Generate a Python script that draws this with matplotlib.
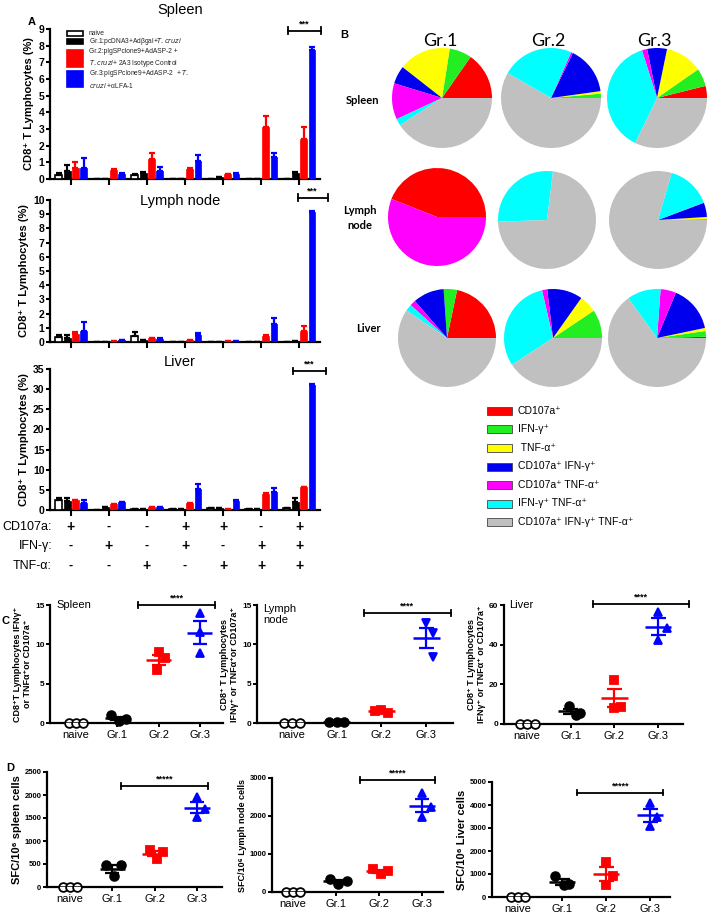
import numpy as np
import matplotlib
matplotlib.use('Agg')
import matplotlib.pyplot as plt
from matplotlib.patches import Rectangle
from matplotlib import transforms

plt.rcParams['font.family'] = ['Liberation Sans', 'DejaVu Sans']

W, H = 708, 914
fig = plt.figure(figsize=(W / 100, H / 100), dpi=100)


def box(x0, y0, x1, y1):
    return [x0 / W, 1 - y1 / H, (x1 - x0) / W, (y1 - y0) / H]


# ---------------- Panel A data ----------------
group_names = ['naive', 'Gr.1', 'Gr.2', 'Gr.3']
cd107a_row = ['+', '-', '-', '+', '+', '-', '+']
ifn_row = ['-', '+', '-', '+', '-', '+', '+']
tnf_row = ['-', '-', '+', '-', '+', '+', '+']

spleen_naive = [0.27, 0.02, 0.23, 0.02, 0.03, 0.02, 0.03]
spleen_naive_err = [0.10, 0.0, 0.07, 0.0, 0.0, 0.0, 0.0]
spleen_gr1 = [0.48, 0.03, 0.37, 0.02, 0.15, 0.03, 0.37]
spleen_gr1_err = [0.37, 0.0, 0.08, 0.0, 0.0, 0.0, 0.03]
spleen_gr2 = [0.69, 0.54, 1.20, 0.62, 0.30, 3.10, 2.40]
spleen_gr2_err = [0.31, 0.06, 0.38, 0.05, 0.03, 0.70, 0.75]
spleen_gr3 = [0.69, 0.31, 0.48, 1.06, 0.30, 1.31, 7.76]
spleen_gr3_err = [0.56, 0.06, 0.25, 0.36, 0.05, 0.27, 0.16]

lymph_naive = [0.35, 0.02, 0.40, 0.02, 0.03, 0.02, 0.02]
lymph_naive_err = [0.17, 0.0, 0.30, 0.0, 0.0, 0.0, 0.0]
lymph_gr1 = [0.28, 0.02, 0.12, 0.02, 0.03, 0.02, 0.05]
lymph_gr1_err = [0.22, 0.0, 0.0, 0.0, 0.0, 0.0, 0.0]
lymph_gr2 = [0.56, 0.09, 0.26, 0.14, 0.05, 0.40, 0.80]
lymph_gr2_err = [0.14, 0.0, 0.0, 0.0, 0.0, 0.10, 0.30]
lymph_gr3 = [0.80, 0.16, 0.24, 0.47, 0.05, 1.29, 9.17]
lymph_gr3_err = [0.59, 0.0, 0.05, 0.17, 0.0, 0.41, 0.05]

liver_naive = [2.46, 0.05, 0.20, 0.20, 0.60, 0.20, 0.50]
liver_naive_err = [0.55, 0.0, 0.0, 0.0, 0.0, 0.0, 0.0]
liver_gr1 = [2.30, 0.80, 0.25, 0.30, 0.40, 0.20, 2.00]
liver_gr1_err = [0.70, 0.0, 0.0, 0.0, 0.0, 0.0, 0.90]
liver_gr2 = [2.46, 1.60, 0.80, 1.80, 0.30, 4.00, 5.70]
liver_gr2_err = [0.0, 0.0, 0.0, 0.0, 0.0, 0.30, 0.0]
liver_gr3 = [1.80, 1.90, 0.70, 5.20, 2.30, 4.50, 31.06]
liver_gr3_err = [0.80, 0.0, 0.0, 1.20, 0.20, 0.90, 0.15]

# ---------------- Panel B data (percent of responding cells) ----------------
subset_labels = ['CD107a\u207a', 'IFN-\u03b3\u207a', ' TNF-\u03b1\u207a', 'CD107a\u207a IFN-\u03b3\u207a',
                 'CD107a\u207a TNF-\u03b1\u207a', 'IFN-\u03b3\u207a TNF-\u03b1\u207a',
                 'CD107a\u207a IFN-\u03b3\u207a TNF-\u03b1\u207a']
subset_colors = ['#ff0000', '#22ee22', '#ffff00', '#0000ee', '#ff00ff', '#00ffff', '#c0c0c0']

pie_spleen_gr1 = [15.3, 7.2, 16.9, 5.8, 11.7, 2.2, 40.8]
pie_spleen_gr2 = [0.0, 1.4, 0.8, 15.6, 0.6, 23.3, 58.3]
pie_spleen_gr3 = [3.9, 5.8, 12.1, 6.4, 1.7, 38.0, 32.2]
pie_lymph_gr1 = [44.0, 0.0, 0.0, 0.0, 56.0, 0.0, 0.0]
pie_lymph_gr2 = [0.0, 0.0, 0.0, 0.0, 0.0, 27.5, 72.5]
pie_lymph_gr3 = [0.1, 0.2, 0.7, 4.7, 0.1, 14.7, 79.5]
pie_liver_gr1 = [21.7, 4.4, 0.0, 10.3, 1.9, 2.2, 59.5]
pie_liver_gr2 = [0.0, 9.4, 5.8, 11.7, 1.7, 30.6, 40.8]
pie_liver_gr3 = [0.4, 1.9, 1.0, 15.4, 5.1, 11.1, 65.0]

# ---------------- Panel C data (% CD8+ cytokine+) ----------------
c_spleen = [[0, 0, 0], [1.0, 0.3, 0.5], [9.06, 8.21, 6.72], [14.0, 11.6, 8.9]]
c_lymph = [[0, 0, 0], [0.1, 0.1, 0.1], [1.5, 1.3, 1.6], [12.75, 11.4, 8.4]]
c_liver = [[0, 0, 0], [9.0, 5.5, 4.5], [22.2, 8.7, 8.0], [56.7, 48.3, 42.4]]

# ---------------- Panel D data (SFC / 10^6 cells) ----------------
d_spleen = [[0, 0, 0], [471, 471, 232], [797, 761, 616], [1957, 1704, 1522]]
d_lymph = [[0, 0, 0], [340, 290, 215], [600, 560, 480], [2602, 2232, 1985]]
d_liver = [[0, 0, 0], [900, 580, 510], [1530, 930, 510], [4082, 3499, 3090]]

# ======================= Panel A =======================
bar_colors = ['white', 'black', '#ff0000', '#0000ff']
bar_edges = ['black', 'black', '#ff0000', '#0000ff']
err_colors = ['black', 'black', '#ff0000', '#0000ff']
bar_offsets = [-0.32, -0.10, 0.12, 0.34]
bar_width = 0.18


def bar_panel(rect, series, errs, ylim, yticks, title, title_y):
    ax = fig.add_axes(box(*rect))
    xs = np.arange(len(cd107a_row))
    for k in range(4):
        vals = np.array(series[k])
        e = np.array(errs[k])
        ax.bar(xs + bar_offsets[k], vals, bar_width, color=bar_colors[k],
               edgecolor=bar_edges[k], linewidth=1.2 if k == 0 else 0.5,
               yerr=[np.zeros_like(e), e],
               error_kw=dict(ecolor=err_colors[k], elinewidth=1.6, capsize=2.2, capthick=1.6),
               zorder=3)
    ax.set_xlim(-0.55, 6.55)
    ax.set_ylim(*ylim)
    ax.set_yticks(yticks)
    ax.set_xticks(xs)
    ax.set_xticklabels([])
    for s in ['top', 'right']:
        ax.spines[s].set_visible(False)
    for s in ['left', 'bottom']:
        ax.spines[s].set_linewidth(1.6)
    ax.tick_params(axis='y', length=3, width=1.5, labelsize=7.5, pad=1)
    ax.tick_params(axis='x', length=4, width=1.5)
    for t in ax.get_yticklabels():
        t.set_fontweight('bold')
    ax.set_ylabel('CD8\u207a T Lymphocytes (%)', fontsize=8, fontweight='bold', labelpad=3)
    fig.text(180 / W, 1 - title_y / H, title, ha='center', va='center', fontsize=10.5)
    return ax


def bracket(ax, x1, x2, y, h, label, fs=6.5, ty=None):
    kw = dict(color='black', lw=1.3, clip_on=False)
    ax.plot([x1, x2], [y, y], **kw)
    ax.plot([x1, x1], [y - h, y + h], **kw)
    ax.plot([x2, x2], [y - h, y + h], **kw)
    ax.text((x1 + x2) / 2, y if ty is None else ty, label, ha='center', va='bottom', fontsize=fs,
            fontweight='bold', clip_on=False)


axA1 = bar_panel((50, 29, 320, 179),
                 [spleen_naive, spleen_gr1, spleen_gr2, spleen_gr3],
                 [spleen_naive_err, spleen_gr1_err, spleen_gr2_err, spleen_gr3_err],
                 (0, 9), range(0, 10), 'Spleen', 10)
axA2 = bar_panel((50, 200, 320, 342),
                 [lymph_naive, lymph_gr1, lymph_gr2, lymph_gr3],
                 [lymph_naive_err, lymph_gr1_err, lymph_gr2_err, lymph_gr3_err],
                 (0, 10), range(0, 11), 'Lymph node', 201)
axA3 = bar_panel((50, 369, 320, 510),
                 [liver_naive, liver_gr1, liver_gr2, liver_gr3],
                 [liver_naive_err, liver_gr1_err, liver_gr2_err, liver_gr3_err],
                 (0, 35), range(0, 36, 5), 'Liver', 362)

bracket(axA1, 5.70, 6.57, 8.9, 0.2, '***', ty=9.0)
bracket(axA2, 5.96, 6.75, 10.15, 0.25, '***', ty=10.3)
bracket(axA3, 5.83, 6.72, 34.5, 0.8, '***', ty=35.0)

# legend for A (drawn in spleen axes)
leg_items = [
    (31, 36, 33.5, ['naive'], 0),
    (39, 44, 41.5, ['Gr.1:pcDNA3+Ad\u03b2gal+$\\it{T.cruzi}$'], 1),
    (50, 67, 58.5, ['Gr.2:pIgSPclone9+AdASP-2 +', '$\\it{T.cruzi}$+ 2A3 Isotype Control'], 2),
    (71, 87, 79.0, ['Gr.3:pIgSPclone9+AdASP-2  + $\\it{T.}$', '$\\it{cruzi}$ +\u03b1LFA-1'], 3),
]
for y0, y1, yt, lines, k in leg_items:
    fig.patches.append(Rectangle((67 / W, 1 - y1 / H), 16 / W, (y1 - y0) / H,
                                 transform=fig.transFigure, facecolor=bar_colors[k],
                                 edgecolor='black' if k < 2 else bar_colors[k], lw=1.2))
    fig.text(89 / W, 1 - yt / H, '\n'.join(lines), fontsize=4.8, va='center', ha='left',
             color='#222222', linespacing=1.35)

fig.text(32 / W, 1 - 22 / H, 'A', fontsize=8, fontweight='bold', ha='center', va='center')

# +/- table under liver
trans = transforms.blended_transform_factory(axA3.transData, fig.transFigure)
rows = [('CD107a:', cd107a_row, 527), ('IFN-\u03b3:', ifn_row, 546), ('TNF-\u03b1:', tnf_row, 566)]
for lab, signs, ypx in rows:
    fig.text(52 / W, 1 - ypx / H, lab, ha='right', va='center', fontsize=9)
    for i, s in enumerate(signs):
        axA3.text(i, 1 - ypx / H, s, transform=trans, ha='center', va='center',
                  fontsize=10 if s == '+' else 9, fontweight='bold')

# ======================= Panel B =======================
axP = fig.add_axes([0, 0, 1, 1])
pies = [
    (pie_spleen_gr1, 442, 98, 50, 0), (pie_spleen_gr2, 551, 98, 50, 0), (pie_spleen_gr3, 657, 98, 50, 0),
    (pie_lymph_gr1, 437, 217, 49, 0), (pie_lymph_gr2, 547, 220, 49, 83), (pie_lymph_gr3, 658, 220, 49, 0),
    (pie_liver_gr1, 447, 338, 49, 0), (pie_liver_gr2, 553, 338, 49, 0), (pie_liver_gr3, 657, 338, 49, 0),
]
for vals, cx, cy, r, sa in pies:
    axP.pie(vals, colors=subset_colors, center=(cx, H - cy), radius=r, startangle=sa,
            counterclock=True, wedgeprops=dict(linewidth=0), normalize=True)
axP.set_xlim(0, W)
axP.set_ylim(0, H)
axP.set_aspect('auto')
axP.axis('off')

for lab, x in zip(['Gr.1', 'Gr.2', 'Gr.3'], [440, 548, 654]):
    fig.text(x / W, 1 - 41 / H, lab, ha='center', va='center', fontsize=13, family='Lato')
fig.text(363 / W, 1 - 100 / H, 'Spleen', ha='center', va='center', fontsize=8, fontweight='bold', family='Lato')
fig.text(360 / W, 1 - 218 / H, 'Lymph\nnode', ha='center', va='center', fontsize=8, fontweight='bold',
         family='Lato', linespacing=1.4)
fig.text(368 / W, 1 - 329 / H, 'Liver', ha='center', va='center', fontsize=8, fontweight='bold', family='Lato')
fig.text(344 / W, 1 - 35 / H, 'B', fontsize=8, fontweight='bold', ha='center', va='center')

for i, (lab, col) in enumerate(zip(subset_labels, subset_colors)):
    yc = 411 + i * 18.5
    fig.patches.append(Rectangle((487 / W, 1 - (yc + 4) / H), 25 / W, 8 / H, transform=fig.transFigure,
                                 facecolor=col, edgecolor='#444444', lw=0.6))
    fig.text(518 / W, 1 - yc / H, lab, ha='left', va='center', fontsize=7.5)

# ======================= Panels C & D =======================
marker_style = [dict(marker='o', mfc='white', mec='black', color='black'),
                dict(marker='o', mfc='black', mec='black', color='black'),
                dict(marker='s', mfc='#ff0000', mec='#ff0000', color='#ff0000'),
                dict(marker='^', mfc='#0000ff', mec='#0000ff', color='#0000ff')]


def scatter_panel(rect, data, xlim, ylim, yticks, ylabel, offsets, ylab_fs=6.5, tick_fs=6,
                  gr3_marker='^', ms=6.3):
    ax = fig.add_axes(box(*rect))
    for i, vals in enumerate(data):
        vals = np.array(vals, dtype=float)
        st = dict(marker_style[i])
        col = st.pop('color')
        if i == 3:
            st['marker'] = gr3_marker
        x = i + np.array(offsets[i])
        ax.plot(x, vals, linestyle='none', ms=ms, mew=1.3, zorder=4, clip_on=False, **st)
        m = vals.mean()
        s = vals.std(ddof=1) / np.sqrt(len(vals))
        ax.hlines(m, i - 0.3, i + 0.3, color=col, lw=1.8, zorder=5)
        if s > 0:
            ax.hlines([m - s, m + s], i - 0.17, i + 0.17, color=col, lw=1.6, zorder=5)
            ax.vlines(i, m - s, m + s, color=col, lw=1.6, zorder=5)
    ax.set_xlim(*xlim)
    ax.set_ylim(*ylim)
    ax.set_yticks(yticks)
    ax.set_xticks(range(4))
    ax.set_xticklabels(group_names, fontsize=8)
    for s in ['top', 'right']:
        ax.spines[s].set_visible(False)
    for s in ['left', 'bottom']:
        ax.spines[s].set_linewidth(1.6)
    ax.tick_params(axis='x', length=3, width=1.4, pad=2)
    ax.tick_params(axis='y', length=3, width=1.4, labelsize=tick_fs, pad=1)
    for t in ax.get_yticklabels():
        t.set_fontweight('bold')
    ax.set_ylabel(ylabel, fontsize=ylab_fs, fontweight='bold', labelpad=2, linespacing=1.2)
    return ax


off_c_spleen = [[-0.17, 0, 0.17], [-0.15, 0.05, 0.22], [0, 0.15, -0.03], [0, 0, 0]]
off_c_lymph = [[-0.17, 0, 0.17], [-0.17, 0, 0.17], [-0.15, 0.15, 0], [0, 0.15, 0.15]]
off_c_liver = [[-0.17, 0, 0.17], [-0.05, 0.2, 0.12], [0, 0.15, 0], [0, 0.2, 0]]

axC1 = scatter_panel((50, 605, 223, 723), c_spleen, (-0.63, 3.56), (0, 15), [0, 5, 10, 15],
                     'CD8\u207aT Lymphocytes IFN\u03b3\u207a\nor TNF\u03b1\u207aor CD107a\u207a', off_c_spleen)
axC2 = scatter_panel((257, 605, 453, 723), c_lymph, (-0.78, 3.6), (0, 15), [0, 5, 10, 15],
                     'CD8\u207a T Lymphocytes\nIFN\u03b3\u207a or TNF\u03b1\u207aor CD107a\u207a', off_c_lymph,
                     gr3_marker='v')
axC3 = scatter_panel((504, 605, 683, 724), c_liver, (-0.53, 3.57), (0, 60), [0, 20, 40, 60],
                     'CD8\u207a T Lymphocytes\nIFN\u03b3\u207a or TNF\u03b1\u207a or CD107a\u207a', off_c_liver)

bracket(axC1, 1.5, 3.37, 15.0, 0.4, '****', ty=15.25)
bracket(axC2, 1.6, 3.55, 14.0, 0.4, '****', ty=14.3)
bracket(axC3, 1.5, 3.7, 60.5, 1.6, '****', ty=61.5)

axC1.text(0.04, 1.0, 'Spleen', transform=axC1.transAxes, fontsize=8, va='center', ha='left')
axC2.text(0.03, 0.92, 'Lymph\nnode', transform=axC2.transAxes, fontsize=8, va='center', ha='left',
          linespacing=1.1)
axC3.text(0.03, 1.0, 'Liver', transform=axC3.transAxes, fontsize=8, va='center', ha='left')
fig.text(6 / W, 1 - 621 / H, 'C', fontsize=8, fontweight='bold', ha='center', va='center')

off_d_spleen = [[-0.17, 0, 0.17], [-0.15, 0.2, 0.05], [-0.1, 0.2, 0.05], [0, 0.2, 0]]
off_d_lymph = [[-0.17, 0, 0.17], [-0.15, 0.25, 0.05], [-0.15, 0.2, 0.05], [0, 0.2, 0]]
off_d_liver = [[-0.17, 0, 0.17], [-0.15, 0.15, 0.05], [0, 0.15, 0], [0, 0.15, 0]]

axD1 = scatter_panel((47, 772, 222, 887), d_spleen, (-0.54, 3.59), (0, 2500), range(0, 2501, 500),
                     'SFC/10\u2076 spleen cells', off_d_spleen, ylab_fs=8, tick_fs=5.5)
axD2 = scatter_panel((272, 778, 443, 892), d_lymph, (-0.49, 3.49), (0, 3000), range(0, 3001, 1000),
                     'SFC/10\u2076 Lymph node cells', off_d_lymph, ylab_fs=6.5, tick_fs=5.5)
axD3 = scatter_panel((492, 782, 670, 897), d_liver, (-0.59, 3.45), (0, 5000), range(0, 5001, 1000),
                     'SFC/10\u2076 Liver cells', off_d_liver, ylab_fs=8, tick_fs=5.5)

bracket(axD1, 1.2, 3.27, 2195, 60, '*****', ty=2250)
bracket(axD2, 1.55, 3.3, 2950, 70, '*****', ty=3020)
bracket(axD3, 1.35, 3.3, 4530, 110, '*****', ty=4650)
fig.text(10 / W, 1 - 768 / H, 'D', fontsize=8, fontweight='bold', ha='center', va='center')

fig.savefig('out.png', dpi=100)
